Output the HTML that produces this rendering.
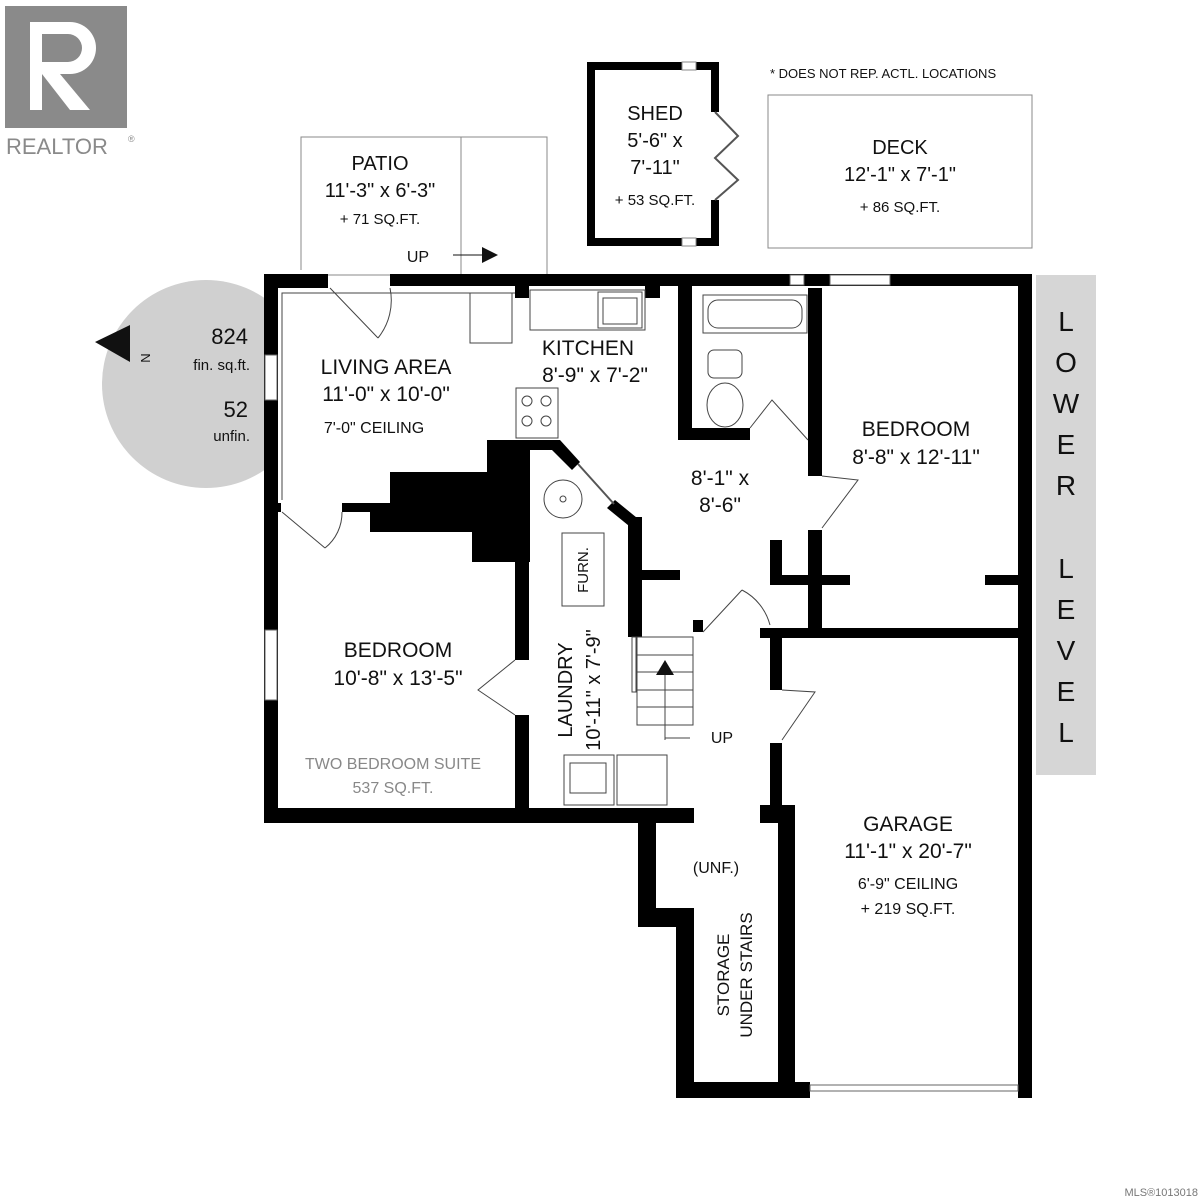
<!DOCTYPE html>
<html><head><style>body{margin:0;background:#fff}svg{display:block}text{font-family:"Liberation Sans",sans-serif;fill:#111}</style></head><body>
<svg width="1200" height="1200" viewBox="0 0 1200 1200">
<rect width="1200" height="1200" fill="#fff"/>
<!-- REALTOR logo -->
<rect x="5" y="6" width="122" height="122" fill="#8a8a8a"/>
<path d="M30 22 h40 a26 26 0 0 1 0 52 h-10 l30 36 h-20 l-28 -36 v36 h-12 z M42 34 v28 h26 a14 14 0 0 0 0 -28 z" fill="#fff"/>
<text x="6" y="154" font-size="22" fill="#8a8a8a" style="fill:#8a8a8a">REALTOR</text>
<text x="128" y="142" font-size="9" style="fill:#8a8a8a">®</text>
<!-- patio -->
<rect x="301" y="137" width="246" height="138" fill="none" stroke="#888" stroke-width="1"/>
<line x1="461" y1="137" x2="461" y2="275" stroke="#888"/>
<text x="380" y="170" font-size="20" text-anchor="middle">PATIO</text>
<text x="380" y="197" font-size="20" text-anchor="middle">11'-3" x 6'-3"</text>
<text x="380" y="224" font-size="15" text-anchor="middle">+ 71 SQ.FT.</text>
<text x="418" y="262" font-size="16" text-anchor="middle">UP</text>
<line x1="453" y1="255" x2="485" y2="255" stroke="#111"/><polygon points="482,247 498,255 482,263" fill="#111"/>
<!-- shed -->
<rect x="591" y="66" width="124" height="176" fill="none" stroke="#000" stroke-width="8"/>
<rect x="682" y="62" width="14" height="8" fill="#fff" stroke="#888"/><rect x="682" y="238" width="14" height="8" fill="#fff" stroke="#888"/>
<rect x="711" y="112" width="8" height="88" fill="#fff"/>
<polyline points="715,112 738,136 715,158 738,180 715,200" fill="none" stroke="#555" stroke-width="2"/>
<text x="655" y="120" font-size="20" text-anchor="middle">SHED</text>
<text x="655" y="147" font-size="20" text-anchor="middle">5'-6" x</text>
<text x="655" y="174" font-size="20" text-anchor="middle">7'-11"</text>
<text x="655" y="205" font-size="15" text-anchor="middle">+ 53 SQ.FT.</text>
<!-- deck -->
<text x="770" y="78" font-size="13">* DOES NOT REP. ACTL. LOCATIONS</text>
<rect x="768" y="95" width="264" height="153" fill="none" stroke="#888"/>
<text x="900" y="154" font-size="20" text-anchor="middle">DECK</text>
<text x="900" y="181" font-size="20" text-anchor="middle">12'-1" x 7'-1"</text>
<text x="900" y="212" font-size="15" text-anchor="middle">+ 86 SQ.FT.</text>
<!-- circle with areas -->
<circle cx="206" cy="384" r="104" fill="#d0d0d0"/>
<rect x="264" y="270" width="60" height="230" fill="#fff"/>
<polygon points="95,342 130,325 130,362" fill="#111"/>
<text x="150" y="358" font-size="13" transform="rotate(-90 150 358)" text-anchor="middle" dy="0">N</text>
<text x="248" y="344" font-size="22" text-anchor="end">824</text>
<text x="250" y="370" font-size="15" text-anchor="end">fin. sq.ft.</text>
<text x="248" y="417" font-size="22" text-anchor="end">52</text>
<text x="250" y="441" font-size="15" text-anchor="end">unfin.</text>
<!-- LOWER LEVEL bar -->
<rect x="1036" y="275" width="60" height="500" fill="#d6d6d6"/>
<g font-size="28" text-anchor="middle">
<text x="1066" y="331">L</text><text x="1066" y="372">O</text><text x="1066" y="413">W</text><text x="1066" y="454">E</text><text x="1066" y="495">R</text>
<text x="1066" y="578">L</text><text x="1066" y="619">E</text><text x="1066" y="660">V</text><text x="1066" y="701">E</text><text x="1066" y="742">L</text>
</g>
<!-- walls -->
<g fill="#000">
<rect x="264" y="274" width="64" height="14"/>
<rect x="390" y="274" width="642" height="12"/>
<rect x="515" y="274" width="14" height="24"/>
<rect x="645" y="274" width="15" height="24"/>
<rect x="264" y="274" width="14" height="548"/>
<rect x="264" y="808" width="430" height="15"/>
<rect x="760" y="805" width="35" height="18"/>
<rect x="638" y="808" width="18" height="119"/>
<rect x="638" y="908" width="56" height="19"/>
<rect x="676" y="908" width="18" height="190"/>
<rect x="676" y="1082" width="134" height="16"/>
<rect x="778" y="805" width="17" height="293"/>
<rect x="1018" y="274" width="14" height="824"/>
<rect x="760" y="628" width="272" height="10"/>
<rect x="770" y="628" width="12" height="62"/>
<rect x="770" y="743" width="12" height="65"/>
<rect x="808" y="288" width="14" height="188"/>
<rect x="808" y="530" width="14" height="100"/>
<rect x="678" y="286" width="14" height="154"/>
<rect x="678" y="428" width="72" height="12"/>
<rect x="770" y="540" width="12" height="45"/>
<rect x="770" y="575" width="80" height="10"/>
<rect x="985" y="575" width="33" height="10"/>
<rect x="278" y="503" width="3" height="9"/>
<rect x="342" y="503" width="48" height="9"/>
<rect x="370" y="503" width="20" height="29"/>
<rect x="390" y="472" width="97" height="60"/>
<rect x="487" y="440" width="43" height="122"/>
<rect x="472" y="532" width="58" height="30"/>
<rect x="515" y="440" width="14" height="220"/>
<rect x="515" y="715" width="14" height="93"/>
<rect x="530" y="440" width="30" height="10"/>
<rect x="628" y="517" width="14" height="120"/>
<rect x="642" y="570" width="38" height="10"/>
<rect x="693" y="620" width="10" height="12"/>
<polygon points="560,440 580,462 572,470 552,450"/>
<polygon points="615,500 642,522 634,530 607,508"/>
</g>
<!-- diag window -->
<line x1="578" y1="464" x2="614" y2="504" stroke="#555" stroke-width="2"/>
<!-- windows -->
<g fill="#fff" stroke="#666"><rect x="265" y="355" width="12" height="45"/><rect x="265" y="630" width="12" height="70"/>
<rect x="790" y="275" width="14" height="10"/><rect x="830" y="275" width="60" height="10"/><rect x="810" y="1085" width="208" height="6"/></g>
<!-- interior lines -->
<g fill="none" stroke="#444" stroke-width="1">
<polyline points="282,500 282,293 515,293"/>
<rect x="470" y="293" width="42" height="50"/>
<rect x="530" y="290" width="115" height="40"/>
<rect x="598" y="292" width="44" height="36"/><rect x="603" y="298" width="34" height="26"/>
<rect x="516" y="388" width="42" height="50"/>
<circle cx="527" cy="401" r="5"/><circle cx="546" cy="401" r="5"/><circle cx="527" cy="421" r="5"/><circle cx="546" cy="421" r="5"/>
<circle cx="563" cy="499" r="19"/><circle cx="563" cy="499" r="3"/>
<rect x="562" y="533" width="42" height="73"/>
<rect x="564" y="755" width="50" height="50"/><rect x="570" y="763" width="36" height="30"/><rect x="617" y="755" width="50" height="50"/>
<rect x="703" y="295" width="104" height="38"/><rect x="708" y="300" width="94" height="28" rx="10"/>
<rect x="708" y="350" width="34" height="28" rx="6"/><ellipse cx="725" cy="405" rx="18" ry="22"/>
<rect x="637" y="637" width="56" height="88"/>
<line x1="637" y1="655" x2="693" y2="655"/><line x1="637" y1="672" x2="693" y2="672"/><line x1="637" y1="690" x2="693" y2="690"/><line x1="637" y1="707" x2="693" y2="707"/>
<polyline points="665,740 665,670"/><line x1="665" y1="738" x2="690" y2="738"/>
<rect x="632" y="637" width="4" height="55"/>
<path d="M330 288 L378 338 M390 288 A60 60 0 0 1 378 338"/>
<path d="M282 512 L325 548 M342 512 A45 45 0 0 1 325 548"/>
<path d="M515 660 L478 690 L515 715"/>
<path d="M703 632 L742 590 M742 590 A55 55 0 0 1 770 625"/>
<path d="M782 690 L815 692 L782 740"/>
<path d="M822 476 L858 480 L822 528"/>
<path d="M750 428 L772 400 L808 440"/>
</g>
<polygon points="665,660 656,675 674,675" fill="#111"/>
<!-- labels -->
<g font-size="21" text-anchor="middle">
<text x="386" y="374">LIVING AREA</text><text x="386" y="401">11'-0" x 10'-0"</text>
<text x="588" y="355">KITCHEN</text><text x="595" y="382">8'-9" x 7'-2"</text>
<text x="916" y="436">BEDROOM</text><text x="916" y="464">8'-8" x 12'-11"</text>
<text x="720" y="485">8'-1" x</text><text x="720" y="512">8'-6"</text>
<text x="398" y="657">BEDROOM</text><text x="398" y="685">10'-8" x 13'-5"</text>
<text x="908" y="831">GARAGE</text><text x="908" y="858">11'-1" x 20'-7"</text>
</g>
<g font-size="16" text-anchor="middle">
<text x="374" y="433">7'-0" CEILING</text>
<text x="908" y="889">6'-9" CEILING</text><text x="908" y="914">+ 219 SQ.FT.</text>
<text x="716" y="873">(UNF.)</text>
<text x="722" y="743">UP</text>
<text x="393" y="769" style="fill:#888">TWO BEDROOM SUITE</text><text x="393" y="793" style="fill:#888">537 SQ.FT.</text>
</g>
<text x="588" y="570" font-size="15" text-anchor="middle" transform="rotate(-90 588 570)">FURN.</text>
<text x="572" y="690" font-size="20" text-anchor="middle" transform="rotate(-90 572 690)">LAUNDRY</text>
<text x="600" y="690" font-size="20" text-anchor="middle" transform="rotate(-90 600 690)">10'-11" x 7'-9"</text>
<text x="729" y="975" font-size="17" text-anchor="middle" transform="rotate(-90 729 975)">STORAGE</text>
<text x="752" y="975" font-size="17" text-anchor="middle" transform="rotate(-90 752 975)">UNDER STAIRS</text>
<text x="1198" y="1196" font-size="11" text-anchor="end" style="fill:#777">MLS®1013018</text>
</svg>
</body></html>
